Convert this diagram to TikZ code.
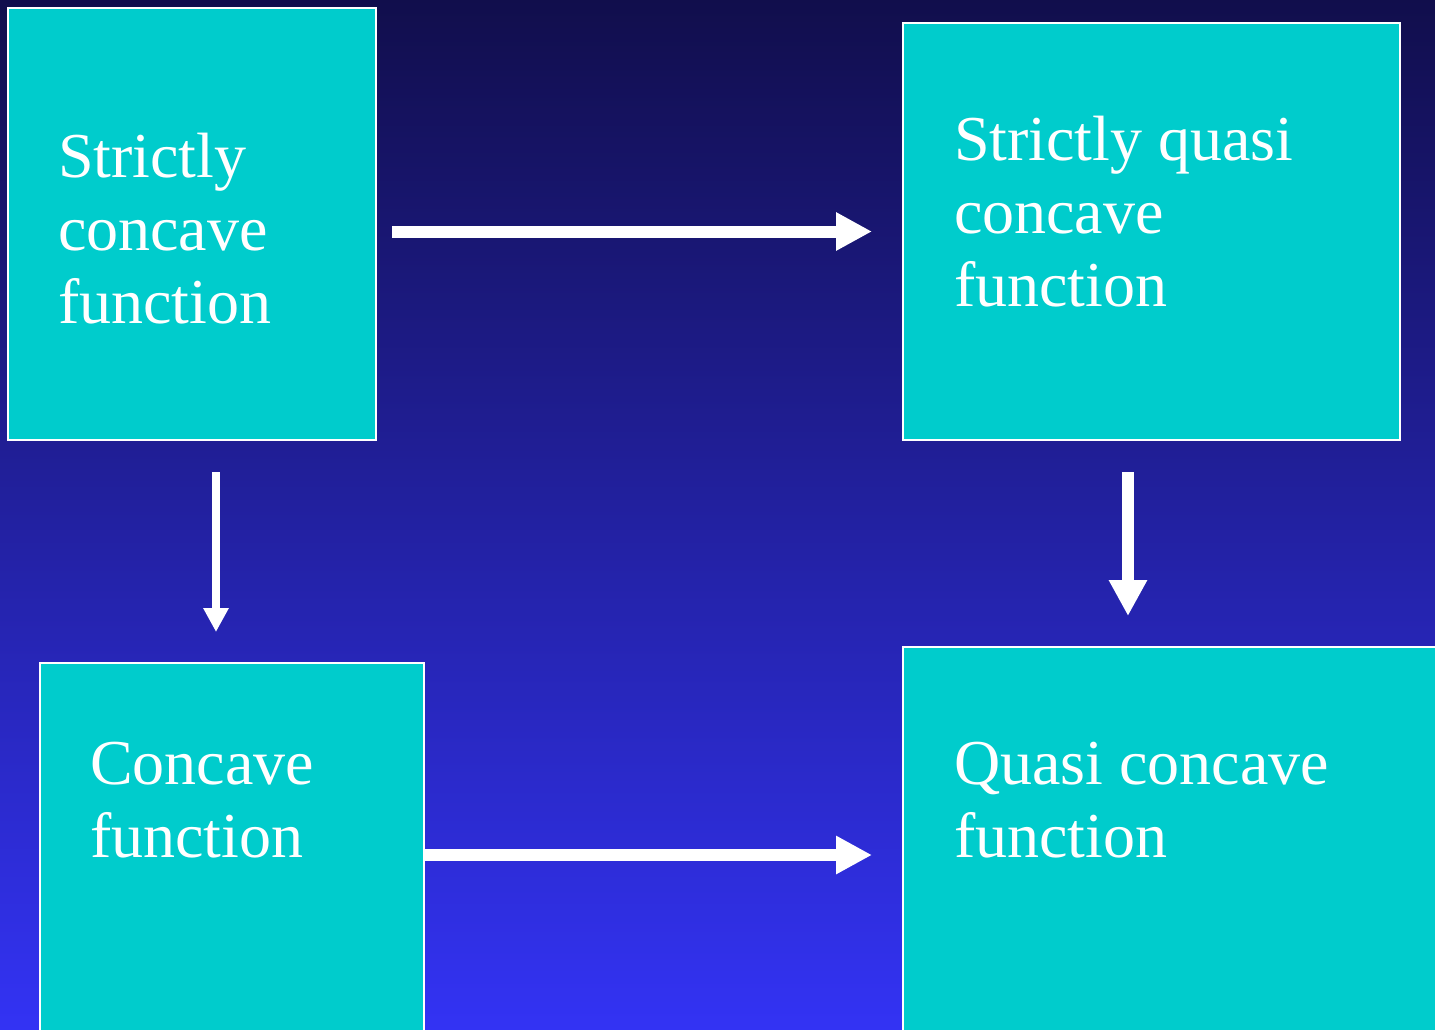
\documentclass[tikz,border=0pt]{standalone}
\usepackage{fontspec}
\setmainfont{Liberation Serif}
\usetikzlibrary{arrows.meta,calc}
\definecolor{bgtop}{HTML}{110E4C}
\definecolor{bgbottom}{HTML}{3333F4}
\definecolor{boxfill}{HTML}{00CCCC}
\tikzset{
  conceptbox/.style={draw=white, line width=1pt, fill=boxfill, rectangle,
    inner sep=0pt, outer sep=0pt, anchor=north west},
  boxtext/.style={text=white, inner sep=0pt, outer sep=0pt, anchor=base west,
    font=\fontsize{32}{36.5}\selectfont},
  bigarrow/.style={white, line width=6pt, -{Triangle[length=18pt,width=18pt]}},
  thinarrow/.style={white, line width=4pt, -{Triangle[length=12pt,width=12pt]}},
}
\begin{document}
\begin{tikzpicture}[x=0.5pt,y=-0.5pt]
  % page area and background gradient
  \clip (0,0) rectangle (1435,1029);
  \shade[top color=bgtop, bottom color=bgbottom] (0,0) rectangle (1435,1029);

  % the four concept boxes
  \node[conceptbox, minimum width=184pt, minimum height=216pt] (b1) at (8,8) {};
  \node[conceptbox, minimum width=248.5pt, minimum height=208.5pt] (b2) at (903,23) {};
  \node[conceptbox, minimum width=192pt, minimum height=192pt] (b3) at (40,663) {};
  \node[conceptbox, minimum width=278.5pt, minimum height=208pt] (b4) at (903,647) {};

  % box captions
  \node[boxtext] (t1) at (58,177) {\parbox[t]{300pt}{\raggedright Strictly\\concave\\function}};
  \node[boxtext] (t2) at (954,160) {\parbox[t]{300pt}{\raggedright Strictly quasi\\concave\\function}};
  \node[boxtext] (t3) at (90,784) {\parbox[t]{300pt}{\raggedright Concave\\function}};
  \node[boxtext] (t4) at (954,784) {\parbox[t]{300pt}{\raggedright Quasi concave\\function}};

  % implications
  \coordinate (c3) at ($(b2.south)+(-23.5,0)$);
  \draw[bigarrow] ($(b1.east |- b2.west)+(16,0)$) -- ($(b2.west)+(-31,0)$);
  \draw[thinarrow] ($(b1.south)+(24,32)$) -- ($(b3.north)+(-16,-31)$);
  \draw[bigarrow] ($(c3)+(0,32)$) -- ($(c3 |- b4.north)+(0,-31)$);
  \draw[bigarrow] (b3.east) -- ($(b4.west)+(-31,0)$);
\end{tikzpicture}
\end{document}
